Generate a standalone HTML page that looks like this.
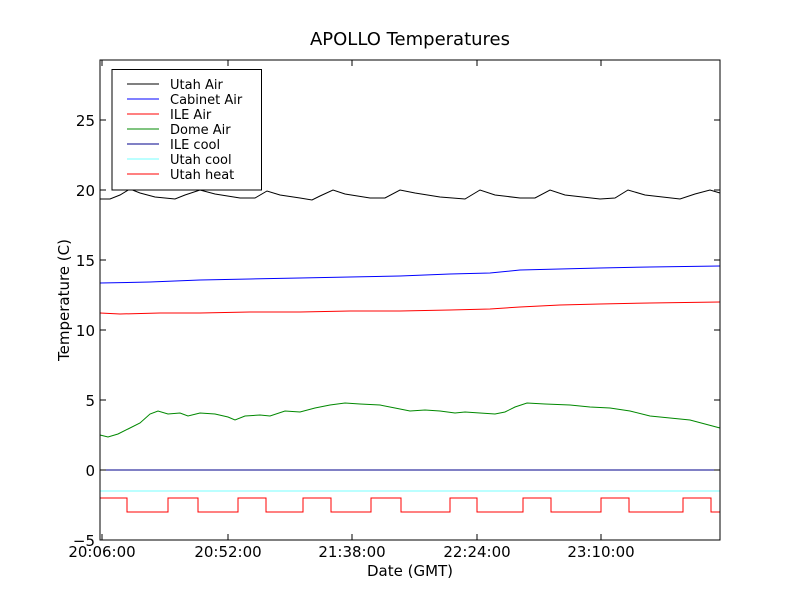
<!DOCTYPE html>
<html><head><meta charset="utf-8"><style>body{margin:0;background:#fff}svg{display:block}text{font-family:"DejaVu Sans","Liberation Sans",sans-serif}</style></head>
<body>
<svg width="800" height="600" xmlns="http://www.w3.org/2000/svg">
<rect width="800" height="600" fill="#fff"/>
<text x="410" y="45" font-size="18" text-anchor="middle">APOLLO Temperatures</text>
<g fill="none" stroke-width="1">
<polyline stroke="#000" points="100,199 110,199 120,195 130,189 140,193 155,197 175,199 185,195 200,190 215,194 240,198 255,198 267,191 280,195 300,198 312,200 320,196 333,190 345,194 370,198 385,198 400,190 415,193 440,197 465,199 480,190 495,195 520,198 535,198 550,190 565,195 600,199 615,198 628,190 645,195 680,199 695,194 710,190 720,193"/>
<polyline stroke="#00f" points="100,283 150,282 200,280 250,279 300,278 350,277 400,276 450,274 490,273 520,270 560,269 600,268 650,267 720,266"/>
<polyline stroke="#f00" points="100,313 120,314 160,313 200,313 250,312 300,312 350,311 400,311 450,310 490,309 520,307 560,305 600,304 650,303 720,302"/>
<polyline stroke="#080" points="100,435 108,437 118,434 128,429 140,423 150,414 158,411 168,414 180,413 188,416 200,413 215,414 228,417 235,420 245,416 260,415 270,416 285,411 300,412 315,408 330,405 345,403 360,404 380,405 395,408 410,411 425,410 440,411 455,413 465,412 480,413 495,414 505,412 515,407 527,403 545,404 570,405 590,407 610,408 630,411 650,416 670,418 690,420 705,424 720,428"/>
<line x1="100" y1="470" x2="720" y2="470" stroke="#00008b"/>
<line x1="100" y1="491" x2="720" y2="491" stroke="#7ff"/>
<polyline stroke="#f00" points="100,530 100,498 127,498 127,512 168,512 168,498 198,498 198,512 238,512 238,498 266,498 266,512 303,512 303,498 331,498 331,512 371,512 371,498 401,498 401,512 450,512 450,498 477,498 477,512 523,512 523,498 551,498 551,512 601,512 601,498 629,498 629,512 683,512 683,498 711,498 711,512 720,512"/>
</g>
<rect x="100" y="60" width="620" height="480" fill="none" stroke="#000"/>
<g stroke="#000">
<line x1="102" y1="540" x2="102" y2="534"/><line x1="228" y1="540" x2="228" y2="534"/><line x1="352" y1="540" x2="352" y2="534"/><line x1="477" y1="540" x2="477" y2="534"/><line x1="601" y1="540" x2="601" y2="534"/>
<line x1="102" y1="60" x2="102" y2="66"/><line x1="228" y1="60" x2="228" y2="66"/><line x1="352" y1="60" x2="352" y2="66"/><line x1="477" y1="60" x2="477" y2="66"/><line x1="601" y1="60" x2="601" y2="66"/>
<line x1="100" y1="540" x2="106" y2="540"/><line x1="100" y1="470" x2="106" y2="470"/><line x1="100" y1="400" x2="106" y2="400"/><line x1="100" y1="330" x2="106" y2="330"/><line x1="100" y1="260" x2="106" y2="260"/><line x1="100" y1="190" x2="106" y2="190"/><line x1="100" y1="120" x2="106" y2="120"/>
<line x1="720" y1="540" x2="714" y2="540"/><line x1="720" y1="470" x2="714" y2="470"/><line x1="720" y1="400" x2="714" y2="400"/><line x1="720" y1="330" x2="714" y2="330"/><line x1="720" y1="260" x2="714" y2="260"/><line x1="720" y1="190" x2="714" y2="190"/><line x1="720" y1="120" x2="714" y2="120"/>
</g>
<g font-size="15" text-anchor="end">
<text x="95" y="546">−5</text><text x="95" y="476">0</text><text x="95" y="406">5</text><text x="95" y="336">10</text><text x="95" y="266">15</text><text x="95" y="196">20</text><text x="95" y="126">25</text>
</g>
<g font-size="15" text-anchor="middle">
<text x="102" y="557">20:06:00</text><text x="228" y="557">20:52:00</text><text x="352" y="557">21:38:00</text><text x="477" y="557">22:24:00</text><text x="601" y="557">23:10:00</text>
</g>
<text x="410" y="576" font-size="15" text-anchor="middle">Date (GMT)</text>
<text transform="translate(69,300) rotate(-90)" font-size="15" text-anchor="middle">Temperature (C)</text>
<rect x="112" y="69.5" width="149.5" height="120.5" fill="#fff" stroke="#000"/>
<g stroke-width="1">
<line x1="127" y1="84" x2="159" y2="84" stroke="#000"/>
<line x1="127" y1="99" x2="159" y2="99" stroke="#00f"/>
<line x1="127" y1="114" x2="159" y2="114" stroke="#f00"/>
<line x1="127" y1="129" x2="159" y2="129" stroke="#080"/>
<line x1="127" y1="144" x2="159" y2="144" stroke="#00008b"/>
<line x1="127" y1="159" x2="159" y2="159" stroke="#7ff"/>
<line x1="127" y1="174" x2="159" y2="174" stroke="#f00"/>
</g>
<g font-size="13">
<text x="170" y="89">Utah Air</text><text x="170" y="104">Cabinet Air</text><text x="170" y="119">ILE Air</text><text x="170" y="134">Dome Air</text><text x="170" y="149">ILE cool</text><text x="170" y="164">Utah cool</text><text x="170" y="179">Utah heat</text>
</g>
</svg>
</body></html>
